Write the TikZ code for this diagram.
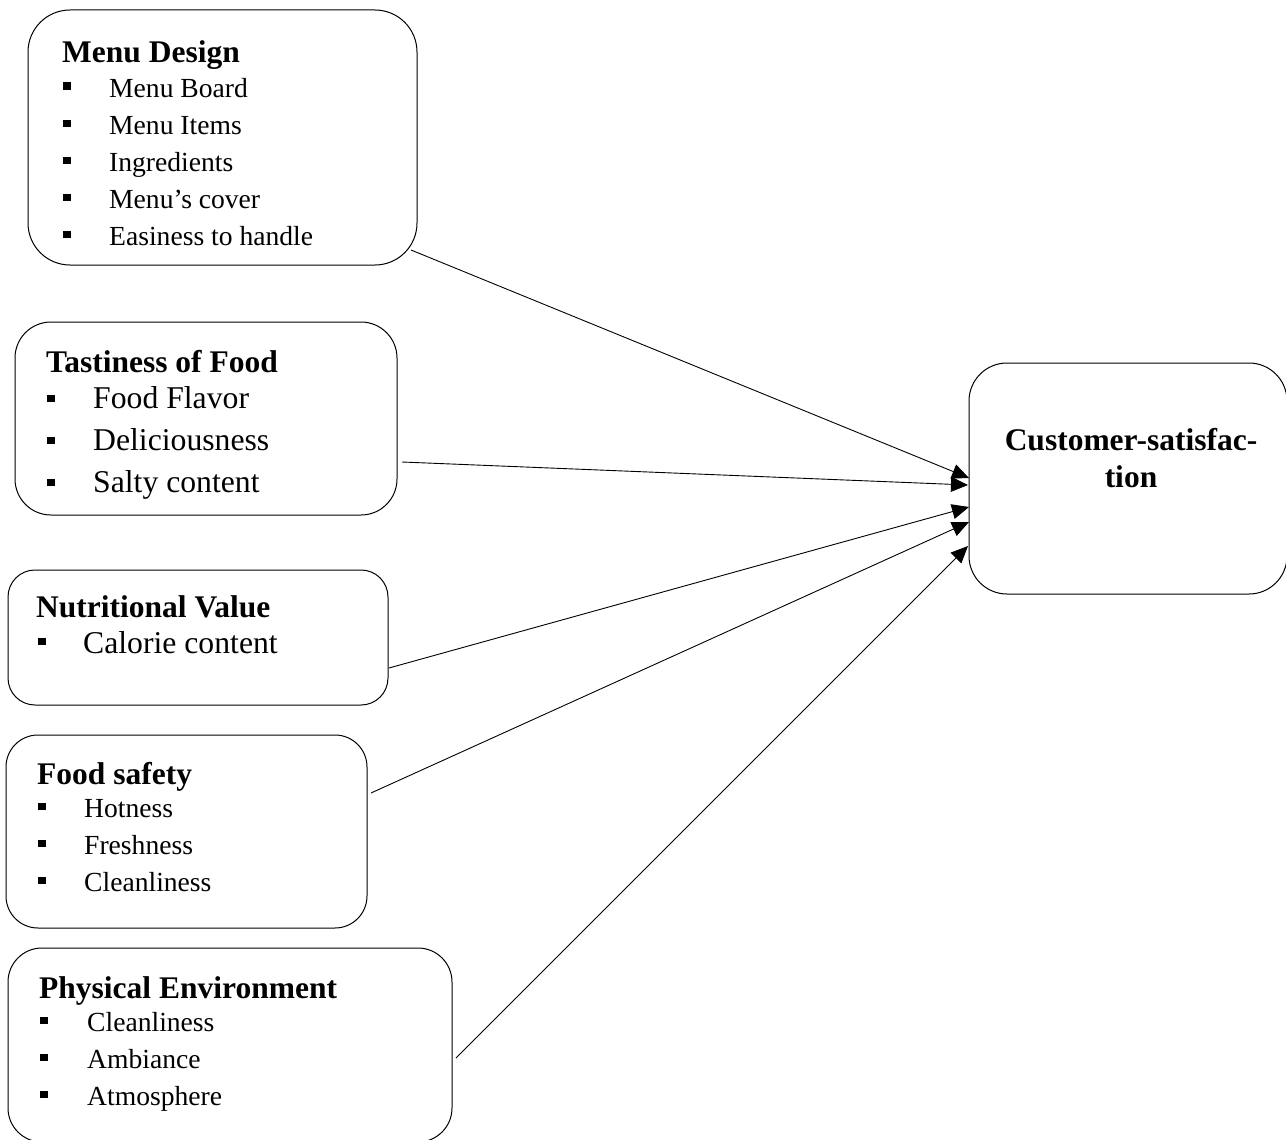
\documentclass[tikz,border=0pt]{standalone}
\usepackage{fontspec}
\setmainfont{Liberation Serif}
\usetikzlibrary{arrows.meta}
\begin{document}
\begin{tikzpicture}[x=1pt,y=-1pt,
  box/.style={draw, line width=1pt, inner sep=0pt, outer sep=0pt, anchor=north west},
  ttl/.style={anchor=base west, inner sep=0pt, font=\fontsize{31.5}{36}\selectfont\bfseries},
  itemS/.style={anchor=base west, inner sep=0pt, font=\fontsize{27.6}{32}\selectfont},
  itemL/.style={anchor=base west, inner sep=0pt, font=\fontsize{31.7}{36}\selectfont},
  conn/.style={-{Triangle[length=17pt,width=15pt]}, line width=0.9pt},
]
\useasboundingbox (0,0) rectangle (1286,1140);
\newcommand{\bul}[3]{\makebox[#1pt][l]{\rule[#2pt]{7.5pt}{7.5pt}}#3}

% boxes
\node[box, rounded corners=42pt, minimum width=389pt, minimum height=255pt] (menu) at (28,10) {};
\node[box, rounded corners=36pt, minimum width=382pt, minimum height=193pt] (taste) at (15,322) {};
\node[box, rounded corners=27pt, minimum width=380pt, minimum height=135pt] (nutri) at (8,570) {};
\node[box, rounded corners=32pt, minimum width=361pt, minimum height=193pt] (safety) at (6,735) {};
\node[box, rounded corners=34pt, minimum width=444pt, minimum height=194pt] (phys) at (8,948) {};
\node[box, rounded corners=38pt, minimum width=318pt, minimum height=231pt] (cust) at (969,363) {};

% Menu Design
\node[ttl] (mt) at (62,63) {Menu Design};
\node[itemS] (m1) at (63,97) {\bul{46}{7}{Menu Board}};
\node[itemS] (m2) at (63,134) {\bul{46}{7}{Menu Items}};
\node[itemS] (m3) at (63,171) {\bul{46}{7}{Ingredients}};
\node[itemS] (m4) at (63,208) {\bul{46}{7}{Menu’s cover}};
\node[itemS] (m5) at (63,245) {\bul{46}{7}{Easiness to handle}};

% Tastiness of Food
\node[ttl] (tt) at (46,372) {Tastiness of Food};
\node[itemL] (t1) at (47,408) {\bul{46}{6}{Food Flavor}};
\node[itemL] (t2) at (47,450) {\bul{46}{6}{Deliciousness}};
\node[itemL] (t3) at (47,492) {\bul{46}{6}{Salty content}};

% Nutritional Value
\node[ttl] (nt) at (36,617) {Nutritional Value};
\node[itemL] (n1) at (38,653) {\bul{45}{8}{Calorie content}};

% Food safety
\node[ttl] (st) at (37,784) {Food safety};
\node[itemS] (s1) at (38,817) {\bul{46}{7}{Hotness}};
\node[itemS] (s2) at (38,854) {\bul{46}{7}{Freshness}};
\node[itemS] (s3) at (38,891) {\bul{46}{7}{Cleanliness}};

% Physical Environment
\node[ttl] (pt) at (39,998) {Physical Environment};
\node[itemS] (p1) at (40,1031) {\bul{47}{7}{Cleanliness}};
\node[itemS] (p2) at (40,1068) {\bul{47}{7}{Ambiance}};
\node[itemS] (p3) at (40,1105) {\bul{47}{7}{Atmosphere}};

% Customer satisfaction
\node[anchor=base, inner sep=0pt, font=\fontsize{31.5}{36}\selectfont\bfseries] (c1) at (1131,450) {Customer-satisfac-};
\node[anchor=base, inner sep=0pt, font=\fontsize{31.5}{36}\selectfont\bfseries] (c2) at (1131,487) {tion};

% connector end points
\coordinate (sm) at (411,250);
\coordinate (st2) at (402,462);
\coordinate (sn) at (389,668);
\coordinate (ss) at (371,793);
\coordinate (sp) at (456,1058);
\coordinate (em) at (969,478);
\coordinate (et) at (968,485);
\coordinate (en) at (969,507);
\coordinate (es) at (969,522);
\coordinate (ep) at (968,546);

\draw[conn] (sm) -- (em);
\draw[conn] (st2) -- (et);
\draw[conn] (sn) -- (en);
\draw[conn] (ss) -- (es);
\draw[conn] (sp) -- (ep);
\end{tikzpicture}
\end{document}
